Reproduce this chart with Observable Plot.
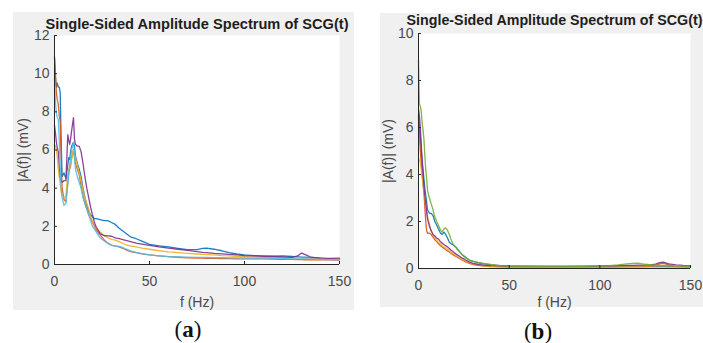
<!DOCTYPE html>
<html>
<head>
<meta charset="utf-8">
<script src="https://cdn.jsdelivr.net/npm/d3@7"></script>
<script src="https://cdn.jsdelivr.net/npm/@observablehq/plot@0.6"></script>
<style>
  html, body { margin: 0; padding: 0; background: #fff; }
  #wrap { position: relative; width: 703px; height: 343px; overflow: hidden; background: #fff; }
  .panel { position: absolute; background: #f0f0f0; }
  .panel svg { display: block; background: transparent; }
  .cap { position: absolute; font-family: "Liberation Serif", "DejaVu Serif", serif; font-size: 23px; color: #111; transform: translate(-50%, -50%); white-space: nowrap; }
  .cap b { font-weight: bold; }
</style>
</head>
<body>
<div id="wrap">
  <div class="panel" id="pa" style="left:13px; top:12px; width:341px; height:298px;"></div>
  <div class="panel" id="pb" style="left:380px; top:13px; width:323px; height:294px;"></div>
  <div class="cap" style="left:188px; top:330px;">(<b>a</b>)</div>
  <div class="cap" style="left:538px; top:332px;">(<b>b</b>)</div>
</div>
<script>
// ---------- shared text ----------
const titleText = "Single-Sided Amplitude Spectrum of SCG(t)";
const yLabelText = "|A(f)| (mV)";
const xLabelText = "f (Hz)";
const xTicks = [0, 50, 100, 150];
const yTicksA = [0, 2, 4, 6, 8, 10, 12];
const yTicksB = [0, 2, 4, 6, 8, 10];

// ---------- panel (a) ----------
const fA = [0, 0.5, 1, 1.5, 2, 2.5, 3, 3.5, 4, 5, 6, 7, 7.5, 8, 8.5, 9, 10, 10.5, 11, 12, 13, 14, 15, 16, 17, 18, 19, 20, 21, 22, 24, 26, 28, 30, 32, 34, 36, 38, 40, 43, 46, 50, 55, 60, 65, 70, 75, 78, 80, 84, 88, 92, 96, 100, 105, 110, 115, 120, 125, 128, 130, 132, 135, 140, 145, 150];
const aBlue = [10.9, 9.8, 9.3, 9.5, 9.3, 9.3, 9.0, 6.5, 4.6, 4.8, 4.5, 5.2, 5.6, 5.5, 5.9, 6.2, 6.4, 6.2, 5.7, 5.3, 5.0, 4.6, 4.0, 3.5, 3.1, 2.8, 2.6, 2.5, 2.4, 2.4, 2.35, 2.3, 2.3, 2.2, 2.1, 1.9, 1.75, 1.6, 1.45, 1.35, 1.22, 1.05, 0.98, 0.92, 0.85, 0.78, 0.78, 0.85, 0.86, 0.8, 0.72, 0.62, 0.55, 0.5, 0.47, 0.45, 0.44, 0.45, 0.42, 0.4, 0.38, 0.38, 0.36, 0.33, 0.3, 0.27];
const aOrange = [10.8, 10.0, 9.0, 8.6, 8.4, 7.8, 7.5, 5.5, 4.0, 3.4, 3.3, 4.3, 4.8, 5.0, 5.2, 5.6, 6.0, 5.6, 5.3, 5.0, 4.7, 4.1, 3.6, 3.2, 2.9, 2.6, 2.45, 2.2, 2.0, 1.8, 1.55, 1.3, 1.12, 1.02, 0.96, 0.92, 0.85, 0.75, 0.68, 0.62, 0.56, 0.5, 0.45, 0.41, 0.38, 0.35, 0.33, 0.33, 0.32, 0.32, 0.31, 0.31, 0.3, 0.3, 0.3, 0.29, 0.28, 0.27, 0.27, 0.26, 0.26, 0.25, 0.25, 0.24, 0.24, 0.23];
const aYellow = [6.3, 6.2, 6.0, 5.6, 5.0, 4.6, 4.2, 3.8, 3.6, 3.5, 3.6, 4.8, 5.0, 5.1, 5.2, 5.5, 6.0, 5.8, 5.6, 5.2, 4.8, 4.4, 3.9, 3.5, 3.2, 2.9, 2.5, 2.25, 2.05, 1.9, 1.7, 1.52, 1.4, 1.32, 1.28, 1.2, 1.1, 1.02, 0.97, 0.92, 0.86, 0.8, 0.72, 0.66, 0.62, 0.58, 0.55, 0.53, 0.52, 0.5, 0.47, 0.45, 0.42, 0.41, 0.4, 0.38, 0.37, 0.36, 0.35, 0.35, 0.34, 0.33, 0.33, 0.32, 0.31, 0.3];
const aPurple = [7.3, 6.9, 6.4, 6.1, 5.9, 5.2, 4.6, 4.4, 4.3, 4.4, 4.4, 6.8, 6.5, 6.3, 6.6, 7.0, 7.7, 6.6, 6.3, 6.2, 6.2, 5.9, 5.3, 4.6, 4.0, 3.5, 3.0, 2.6, 2.2, 1.95, 1.62, 1.52, 1.5, 1.48, 1.4, 1.35, 1.3, 1.25, 1.2, 1.12, 1.07, 1.0, 0.92, 0.86, 0.8, 0.74, 0.68, 0.64, 0.62, 0.58, 0.56, 0.53, 0.5, 0.47, 0.45, 0.43, 0.42, 0.4, 0.37, 0.45, 0.6, 0.52, 0.38, 0.33, 0.32, 0.33];
const aCyan = [9.8, 8.5, 7.9, 7.7, 7.6, 6.5, 5.0, 4.0, 3.5, 3.1, 3.2, 4.2, 4.8, 5.2, 5.6, 6.0, 6.4, 5.8, 5.0, 4.6, 4.3, 4.0, 3.5, 3.2, 2.9, 2.6, 2.3, 2.0, 1.85, 1.7, 1.4, 1.25, 1.1, 1.0, 0.97, 0.95, 0.88, 0.8, 0.72, 0.63, 0.57, 0.5, 0.45, 0.41, 0.4, 0.38, 0.37, 0.37, 0.37, 0.36, 0.36, 0.35, 0.35, 0.34, 0.33, 0.33, 0.32, 0.31, 0.3, 0.3, 0.29, 0.29, 0.28, 0.27, 0.26, 0.25];

// ---------- panel (b) ----------
const fB = [0, 0.5, 1, 1.5, 2, 2.5, 3, 3.5, 4, 4.5, 5, 6, 7, 8, 9, 10, 11, 12, 13, 14, 15, 16, 17, 18, 19, 20, 21, 22, 24, 26, 28, 30, 33, 36, 40, 45, 50, 60, 70, 80, 90, 100, 105, 110, 115, 118, 121, 125, 130, 133, 135, 138, 142, 146, 150];
const bBlue = [6.5, 6.0, 5.6, 5.0, 4.6, 4.2, 3.8, 3.4, 3.1, 2.8, 2.5, 2.35, 2.35, 2.25, 2.0, 1.85, 1.68, 1.52, 1.45, 1.55, 1.45, 1.3, 1.12, 1.05, 1.02, 0.95, 0.88, 0.78, 0.6, 0.48, 0.36, 0.3, 0.24, 0.2, 0.15, 0.12, 0.1, 0.09, 0.08, 0.08, 0.08, 0.08, 0.09, 0.1, 0.1, 0.1, 0.1, 0.09, 0.09, 0.09, 0.09, 0.08, 0.08, 0.08, 0.08];
const bOrange = [6.4, 5.8, 5.0, 4.5, 4.0, 3.6, 3.2, 2.6, 2.0, 1.6, 1.5, 1.5, 1.45, 1.33, 1.22, 1.15, 1.05, 0.98, 0.92, 0.86, 0.8, 0.75, 0.7, 0.64, 0.59, 0.54, 0.5, 0.45, 0.36, 0.28, 0.22, 0.17, 0.13, 0.1, 0.08, 0.07, 0.06, 0.05, 0.05, 0.05, 0.05, 0.05, 0.05, 0.06, 0.06, 0.07, 0.07, 0.08, 0.12, 0.2, 0.22, 0.15, 0.08, 0.06, 0.05];
const bYellow = [4.7, 4.6, 4.5, 4.2, 3.9, 3.6, 3.3, 3.0, 2.7, 2.45, 2.2, 1.9, 1.6, 1.45, 1.3, 1.2, 1.12, 1.05, 0.97, 0.92, 0.88, 0.82, 0.76, 0.7, 0.65, 0.6, 0.55, 0.5, 0.4, 0.32, 0.25, 0.2, 0.15, 0.12, 0.1, 0.08, 0.07, 0.06, 0.06, 0.06, 0.06, 0.06, 0.06, 0.06, 0.06, 0.06, 0.06, 0.06, 0.06, 0.06, 0.06, 0.06, 0.06, 0.06, 0.06];
const bPurple = [6.8, 6.5, 6.0, 5.3, 4.6, 4.0, 3.5, 3.1, 2.8, 2.4, 2.1, 1.8, 1.6, 1.45, 1.38, 1.3, 1.25, 1.15, 1.08, 1.02, 0.97, 0.92, 0.85, 0.78, 0.72, 0.66, 0.6, 0.55, 0.45, 0.36, 0.28, 0.22, 0.17, 0.14, 0.12, 0.11, 0.1, 0.1, 0.1, 0.1, 0.1, 0.11, 0.12, 0.12, 0.13, 0.13, 0.14, 0.14, 0.17, 0.25, 0.27, 0.2, 0.15, 0.13, 0.12];
const bGreen = [8.85, 7.0, 6.9, 6.7, 6.2, 5.9, 5.5, 4.8, 4.2, 3.8, 3.3, 3.0, 2.75, 2.5, 2.2, 2.0, 1.85, 1.65, 1.55, 1.68, 1.73, 1.62, 1.45, 1.22, 1.05, 0.95, 0.85, 0.76, 0.58, 0.45, 0.36, 0.31, 0.26, 0.22, 0.17, 0.12, 0.1, 0.08, 0.08, 0.08, 0.09, 0.1, 0.12, 0.15, 0.2, 0.22, 0.23, 0.18, 0.14, 0.13, 0.12, 0.12, 0.11, 0.1, 0.1];

// MATLAB default line colours
const cBlue = "#0072BD", cOrange = "#D95319", cYellow = "#EDB120", cPurple = "#7E2F8E", cGreen = "#77AC30", cCyan = "#4DBEEE";

const seriesA = [
  {values: aBlue, color: cBlue},
  {values: aOrange, color: cOrange},
  {values: aYellow, color: cYellow},
  {values: aPurple, color: cPurple},
  {values: aCyan, color: cCyan}
];
const seriesB = [
  {values: bBlue, color: cBlue},
  {values: bOrange, color: cOrange},
  {values: bYellow, color: cYellow},
  {values: bPurple, color: cPurple},
  {values: bGreen, color: cGreen}
];

function panel({freqs, series, yMax, yTicks, width, height, mL, mR, mT, mB, titleDy, yLabDx, xLabDy}) {
  const iw = width - mL - mR, ih = height - mT - mB;
  const axisColor = "#262626";
  return Plot.plot({
    width, height,
    marginLeft: mL, marginRight: mR, marginTop: mT, marginBottom: mB,
    style: {background: "transparent", fontFamily: "'Liberation Sans', Arial, sans-serif", fontSize: "14px", color: "#4a4a4a", overflow: "visible"},
    x: {domain: [0, 150], ticks: xTicks, tickSize: 0, tickPadding: 12, label: null},
    y: {domain: [0, yMax], ticks: yTicks, tickSize: 0, tickPadding: 5, label: null},
    marks: [
      Plot.frame({fill: "white", stroke: "none"}),
      ...series.map(s => Plot.line(s.values, {x: freqs, y: d => d, stroke: s.color, strokeWidth: 1.3, strokeOpacity: 0.9})),
      Plot.ruleX([0], {stroke: axisColor}),
      Plot.ruleY([0], {stroke: axisColor}),
      Plot.tickX(xTicks, {x: d => d, insetTop: ih - 3, stroke: axisColor}),
      Plot.tickY(yTicks, {y: d => d, insetRight: iw - 3, stroke: axisColor}),
      Plot.text([titleText], {text: d => d, frameAnchor: "top", dy: titleDy, lineAnchor: "middle", textAnchor: "middle", fontWeight: "bold", fontSize: 14.5, fill: "#1e1e1e"}),
      Plot.text([yLabelText], {text: d => d, frameAnchor: "left", dx: yLabDx, rotate: -90, lineAnchor: "middle", textAnchor: "middle", fontSize: 14, fill: "#4a4a4a"}),
      Plot.text([xLabelText], {text: d => d, frameAnchor: "bottom", dy: xLabDy, lineAnchor: "middle", textAnchor: "middle", fontSize: 14, fill: "#4a4a4a"})
    ]
  });
}

function fitTitle(svg, targetWidth) {
  svg.querySelectorAll("text").forEach(t => {
    if (t.textContent === titleText) {
      const w = t.getComputedTextLength();
      if (w > 0) {
        const fs = 14.5 * targetWidth / w;
        t.style.fontSize = fs.toFixed(2) + "px";
      }
    }
  });
}

const svgA = panel({
  freqs: fA, series: seriesA, yMax: 12, yTicks: yTicksA,
  width: 341, height: 298, mL: 41, mR: 15, mT: 23, mB: 46,
  titleDy: -11, yLabDx: -31, xLabDy: 38
});
document.getElementById("pa").appendChild(svgA);
fitTitle(svgA, 303);

const svgB = panel({
  freqs: fB, series: seriesB, yMax: 10, yTicks: yTicksB,
  width: 323, height: 294, mL: 38, mR: 13, mT: 20, mB: 39,
  titleDy: -13, yLabDx: -30, xLabDy: 34
});
document.getElementById("pb").appendChild(svgB);
fitTitle(svgB, 296);
</script>
</body>
</html>
